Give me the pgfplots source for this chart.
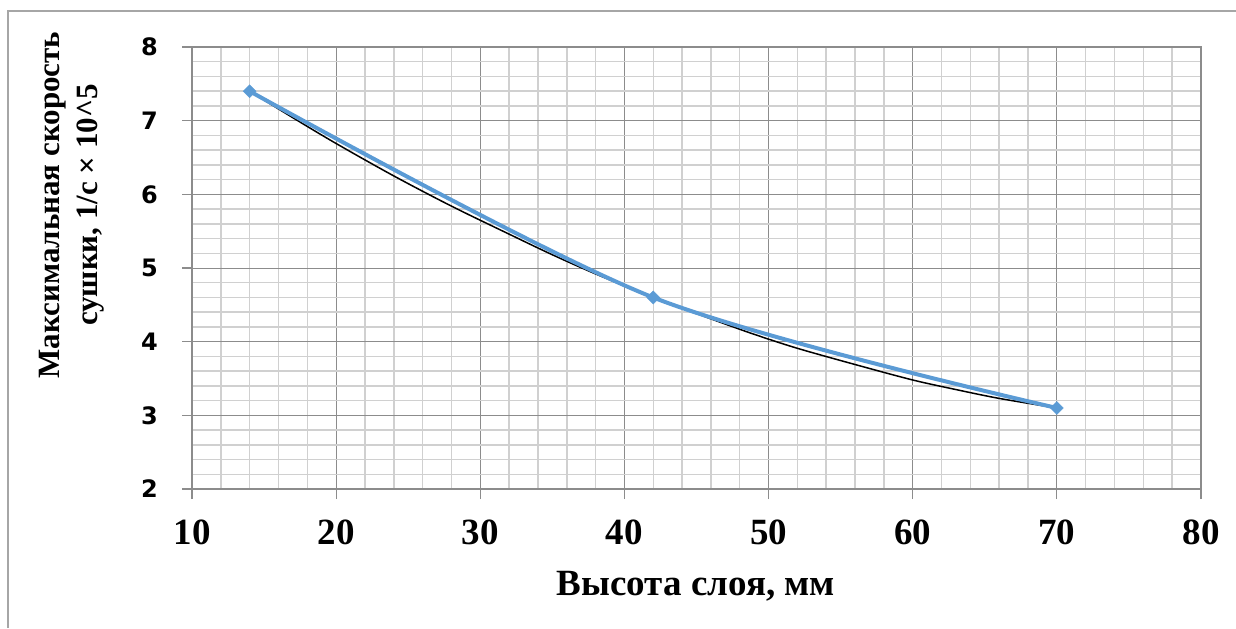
\documentclass[border=0pt]{standalone}
\usepackage{fontspec}
\setmainfont{Liberation Serif}
\newfontfamily\dejavu{DejaVu Sans}
\usepackage{pgfplots}
\pgfplotsset{compat=1.18}

\definecolor{excelblue}{HTML}{5B9BD5}
\definecolor{majorgrid}{HTML}{8C8C8C}
\definecolor{minorgrid}{HTML}{D0D0D0}
\definecolor{chartframe}{HTML}{A6A6A6}

% values
\pgfplotstableread{
x y
14 7.4
42 4.6
70 3.1
}\measured

% black trend line (as drawn in the reference)
\pgfplotstableread{
x y
14 7.40
17 7.04
20 6.69
24 6.25
28 5.84
32 5.46
35 5.18
38 4.92
42 4.60
46 4.31
49 4.10
52 3.91
56 3.69
60 3.48
63 3.35
66 3.23
70 3.10
}\trend

\begin{document}
\begin{tikzpicture}
% 1 px of the reference = 0.5pt, y counted downward
\begin{scope}[x=0.5pt,y=-0.5pt]
  \useasboundingbox (0,0) rectangle (1236,628);
  \draw[chartframe,line width=0.75pt] (8,628) -- (8,11) -- (1236,11);
\end{scope}

\begin{axis}[
  at={(96pt,-244.5pt)}, anchor=south west,
  scale only axis, width=504.5pt, height=221pt,
  xmin=10, xmax=80, ymin=2, ymax=8,
  xtick={10,20,...,80}, ytick={2,3,...,8},
  minor x tick num=4, minor y tick num=4,
  grid=both,
  major grid style={majorgrid,line width=0.5pt},
  minor grid style={minorgrid,line width=0.75pt},
  axis line style={majorgrid,line width=0.6pt},
  tick pos=left, tick align=outside,
  major tick length=5pt, minor tick length=0pt,
  tick style={majorgrid,line width=0.6pt},
  /pgf/number format/assume math mode=true,
  xticklabel style={font=\bfseries\fontsize{18.5}{21}\selectfont, yshift=-7pt},
  yticklabel style={font=\dejavu\bfseries\fontsize{12}{14}\selectfont, xshift=-8.5pt},
]
\addplot[black, line width=0.75pt, smooth] table {\trend};
\addplot[excelblue, line width=2pt, smooth, tension=0.5,
  mark=square*, mark size=2.3pt,
  mark options={rotate=45, solid, fill=excelblue, draw=excelblue, line width=0.2pt}]
  table {\measured};
\end{axis}

\begin{scope}[x=0.5pt,y=-0.5pt]
  \node[font=\bfseries\fontsize{18.5}{21}\selectfont, anchor=base] at (696,595) {Высота слоя, мм};
  \node[font=\bfseries\fontsize{15.5}{19}\selectfont, rotate=90, align=center] at (72,205)
    {Максимальная скорость\\сушки, 1/с × 10\textasciicircum5};
\end{scope}
\end{tikzpicture}
\end{document}
